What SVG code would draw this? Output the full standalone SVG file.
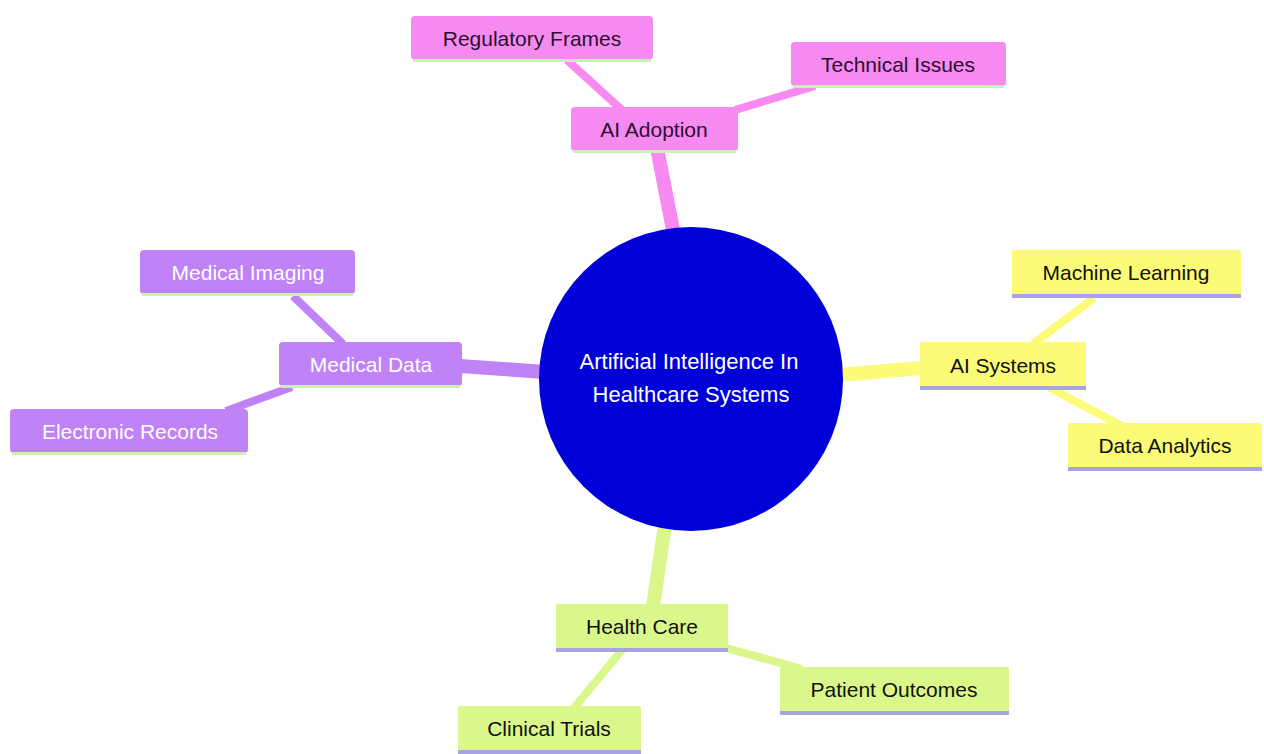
<svg xmlns="http://www.w3.org/2000/svg" width="1264" height="754" viewBox="0 0 1264 754">
<style>
text{font-family:"Liberation Sans",Arial,sans-serif;font-size:21px;text-anchor:middle;dominant-baseline:central}
.ct{font-size:22px;fill:#ffffff}
.pk rect.b{fill:#f78af0}.pk text{fill:#2a1030}
.pu rect.b{fill:#bf82f7}.pu text{fill:#ffffff}
.ye rect.b{fill:#fbfb78}.ye text{fill:#111111}
.gr rect.b{fill:#d9f78a}.gr text{fill:#111111}
.lg{fill:#c9f0b8}.lv{fill:#a8a4e4}
.e1{stroke-width:14;stroke-linecap:butt;fill:none}
.e2{stroke-width:8;stroke-linecap:butt;fill:none}
</style>
<rect width="1264" height="754" fill="#ffffff"/>
<g id="connectors">
<line class="e1" x1="674" y1="235" x2="657" y2="148" stroke="#f78af0"/>
<line class="e2" x1="622" y1="110" x2="567" y2="60" stroke="#f78af0"/>
<line class="e2" x1="735" y1="110" x2="815" y2="86" stroke="#f78af0"/>
<line class="e1" x1="545" y1="372" x2="460" y2="366" stroke="#bf82f7"/>
<line class="e2" x1="343" y1="344" x2="293" y2="296" stroke="#bf82f7"/>
<line class="e2" x1="292" y1="387" x2="226" y2="411" stroke="#bf82f7"/>
<line class="e1" x1="838" y1="375" x2="922" y2="368" stroke="#fbfb78"/>
<line class="e2" x1="1033" y1="344" x2="1094" y2="298" stroke="#fbfb78"/>
<line class="e2" x1="1050" y1="388" x2="1122" y2="426" stroke="#fbfb78"/>
<line class="e1" x1="665" y1="525" x2="653" y2="606" stroke="#d9f78a"/>
<line class="e2" x1="622" y1="650" x2="574" y2="708" stroke="#d9f78a"/>
<line class="e2" x1="726" y1="648" x2="802" y2="669" stroke="#d9f78a"/>
</g>
<g id="center">
<circle cx="691" cy="379" r="152" fill="#0000d8"/>
<text class="ct" x="689" y="361">Artificial Intelligence In</text>
<text class="ct" x="691" y="394">Healthcare Systems</text>
</g>
<g id="ai-adoption" class="pk"><rect class="b" x="571" y="107" width="167" height="44" rx="4"/><rect class="lg" x="573" y="150" width="163" height="3"/><text x="654" y="129">AI Adoption</text></g>
<g id="regulatory-frames" class="pk"><rect class="b" x="411" y="16" width="242" height="44" rx="4"/><rect class="lg" x="413" y="59" width="238" height="3"/><text x="532" y="38">Regulatory Frames</text></g>
<g id="technical-issues" class="pk"><rect class="b" x="791" y="42" width="215" height="44" rx="4"/><rect class="lg" x="793" y="85" width="211" height="3"/><text x="898" y="64">Technical Issues</text></g>
<g id="medical-data" class="pu"><rect class="b" x="279" y="342" width="183" height="44" rx="4"/><rect class="lg" x="281" y="385" width="179" height="3"/><text x="371" y="364">Medical Data</text></g>
<g id="medical-imaging" class="pu"><rect class="b" x="140" y="250" width="215" height="44" rx="4"/><rect class="lg" x="142" y="293" width="211" height="3"/><text x="248" y="272">Medical Imaging</text></g>
<g id="electronic-records" class="pu"><rect class="b" x="10" y="409" width="238" height="44" rx="4"/><rect class="lg" x="12" y="452" width="234" height="3"/><text x="130" y="431">Electronic Records</text></g>
<g id="ai-systems" class="ye"><rect class="b" x="920" y="342" width="166" height="45" rx="2"/><rect class="lv" x="920" y="386" width="166" height="4"/><text x="1003" y="365">AI Systems</text></g>
<g id="machine-learning" class="ye"><rect class="b" x="1012" y="250" width="229" height="45" rx="2"/><rect class="lv" x="1012" y="294" width="229" height="4"/><text x="1126" y="272">Machine Learning</text></g>
<g id="data-analytics" class="ye"><rect class="b" x="1068" y="423" width="194" height="45" rx="2"/><rect class="lv" x="1068" y="467" width="194" height="4"/><text x="1165" y="445">Data Analytics</text></g>
<g id="health-care" class="gr"><rect class="b" x="556" y="604" width="172" height="45" rx="2"/><rect class="lv" x="556" y="648" width="172" height="4"/><text x="642" y="626">Health Care</text></g>
<g id="patient-outcomes" class="gr"><rect class="b" x="780" y="667" width="229" height="45" rx="2"/><rect class="lv" x="780" y="711" width="229" height="4"/><text x="894" y="689">Patient Outcomes</text></g>
<g id="clinical-trials" class="gr"><rect class="b" x="458" y="706" width="183" height="45" rx="2"/><rect class="lv" x="458" y="750" width="183" height="4"/><text x="549" y="728">Clinical Trials</text></g>
</svg>
